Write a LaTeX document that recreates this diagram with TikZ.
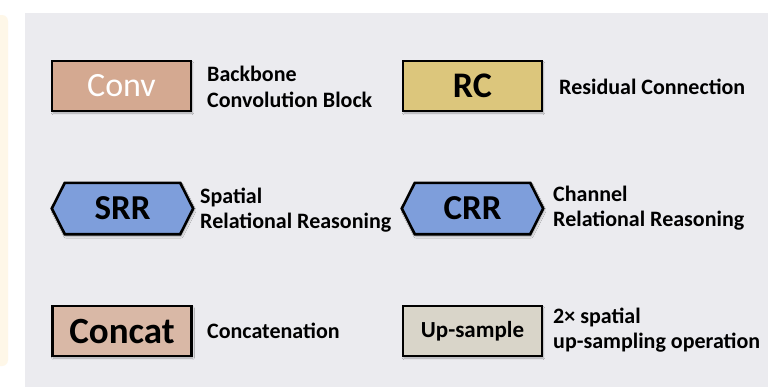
\documentclass[tikz,border=0pt]{standalone}
\usepackage{fontspec}
\setmainfont{Carlito}
\usetikzlibrary{calc,shadows.blur}
\definecolor{panel}{HTML}{EBEBEF}
\definecolor{cream}{HTML}{FEF7E8}
\definecolor{convfill}{HTML}{D4A991}
\definecolor{rcfill}{HTML}{DCC67C}
\definecolor{rrfill}{HTML}{7E9EDB}
\definecolor{catfill}{HTML}{D9B8A6}
\definecolor{upfill}{HTML}{D9D5C9}
\begin{document}
\begin{tikzpicture}[x=1pt,y=-1pt,
  shad/.style={blur shadow={shadow xshift=1pt,shadow yshift=-2pt,shadow blur steps=6,shadow opacity=30}},
  blk/.style={draw=black,line width=2.6pt,minimum width=139pt,minimum height=50pt,inner sep=0pt,shad},
  hexlbl/.style={minimum width=141pt,minimum height=51pt,inner sep=0pt,font=\fontsize{35}{35}\selectfont\bfseries},
  hexline/.style={draw=black,line width=2.6pt,line join=miter,fill=rrfill,shad},
  desc/.style={font=\fontsize{22}{25.5}\selectfont\bfseries,anchor=west,align=left,inner sep=0pt}]
\useasboundingbox (0,0) rectangle (777,389);
\fill[white] (0,0) rectangle (777,389);
\fill[cream,rounded corners=6pt] (-10,15) rectangle (8,366);
\fill[panel] (25,13) rectangle (768,387);
% row 1
\node[blk,fill=convfill,text=white,font=\fontsize{34}{34}\selectfont] (conv) at (121.5,86) {Conv};
\node[desc] (convd) at (207,87) {Backbone\\Convolution Block};
\node[blk,fill=rcfill,font=\fontsize{36}{36}\selectfont\bfseries] (rc) at (472.5,86) {RC};
\node[desc] (rcd) at (559,87) {Residual Connection};
% row 2
\node[hexlbl] (srr) at (122.5,208.5) {};
\draw[hexline] (srr.west) -- ($(srr.north west)+(13,0)$) -- ($(srr.north east)+(-13,0)$) -- (srr.east)
  -- ($(srr.south east)+(-13,0)$) -- ($(srr.south west)+(13,0)$) -- cycle;
\node[hexlbl] at (srr.center) {SRR};
\node[desc] (srrd) at (200,210) {Spatial\\Relational Reasoning};
\node[hexlbl] (crr) at (472.5,208.5) {};
\draw[hexline] (crr.west) -- ($(crr.north west)+(13,0)$) -- ($(crr.north east)+(-13,0)$) -- (crr.east)
  -- ($(crr.south east)+(-13,0)$) -- ($(crr.south west)+(13,0)$) -- cycle;
\node[hexlbl] at (crr.center) {CRR};
\node[desc] (crrd) at (553,208) {Channel\\Relational Reasoning};
% row 3
\node[blk,fill=catfill,font=\fontsize{37}{37}\selectfont\bfseries] (cat) at (122,331) {Concat};
\node[desc] (catd) at (207,331) {Concatenation};
\node[blk,fill=upfill,font=\fontsize{23}{23}\selectfont\bfseries] (up) at (472.5,331) {Up-sample};
\node[desc] (upd) at (553,330) {2× spatial\\up-sampling operation};
\end{tikzpicture}
\end{document}
